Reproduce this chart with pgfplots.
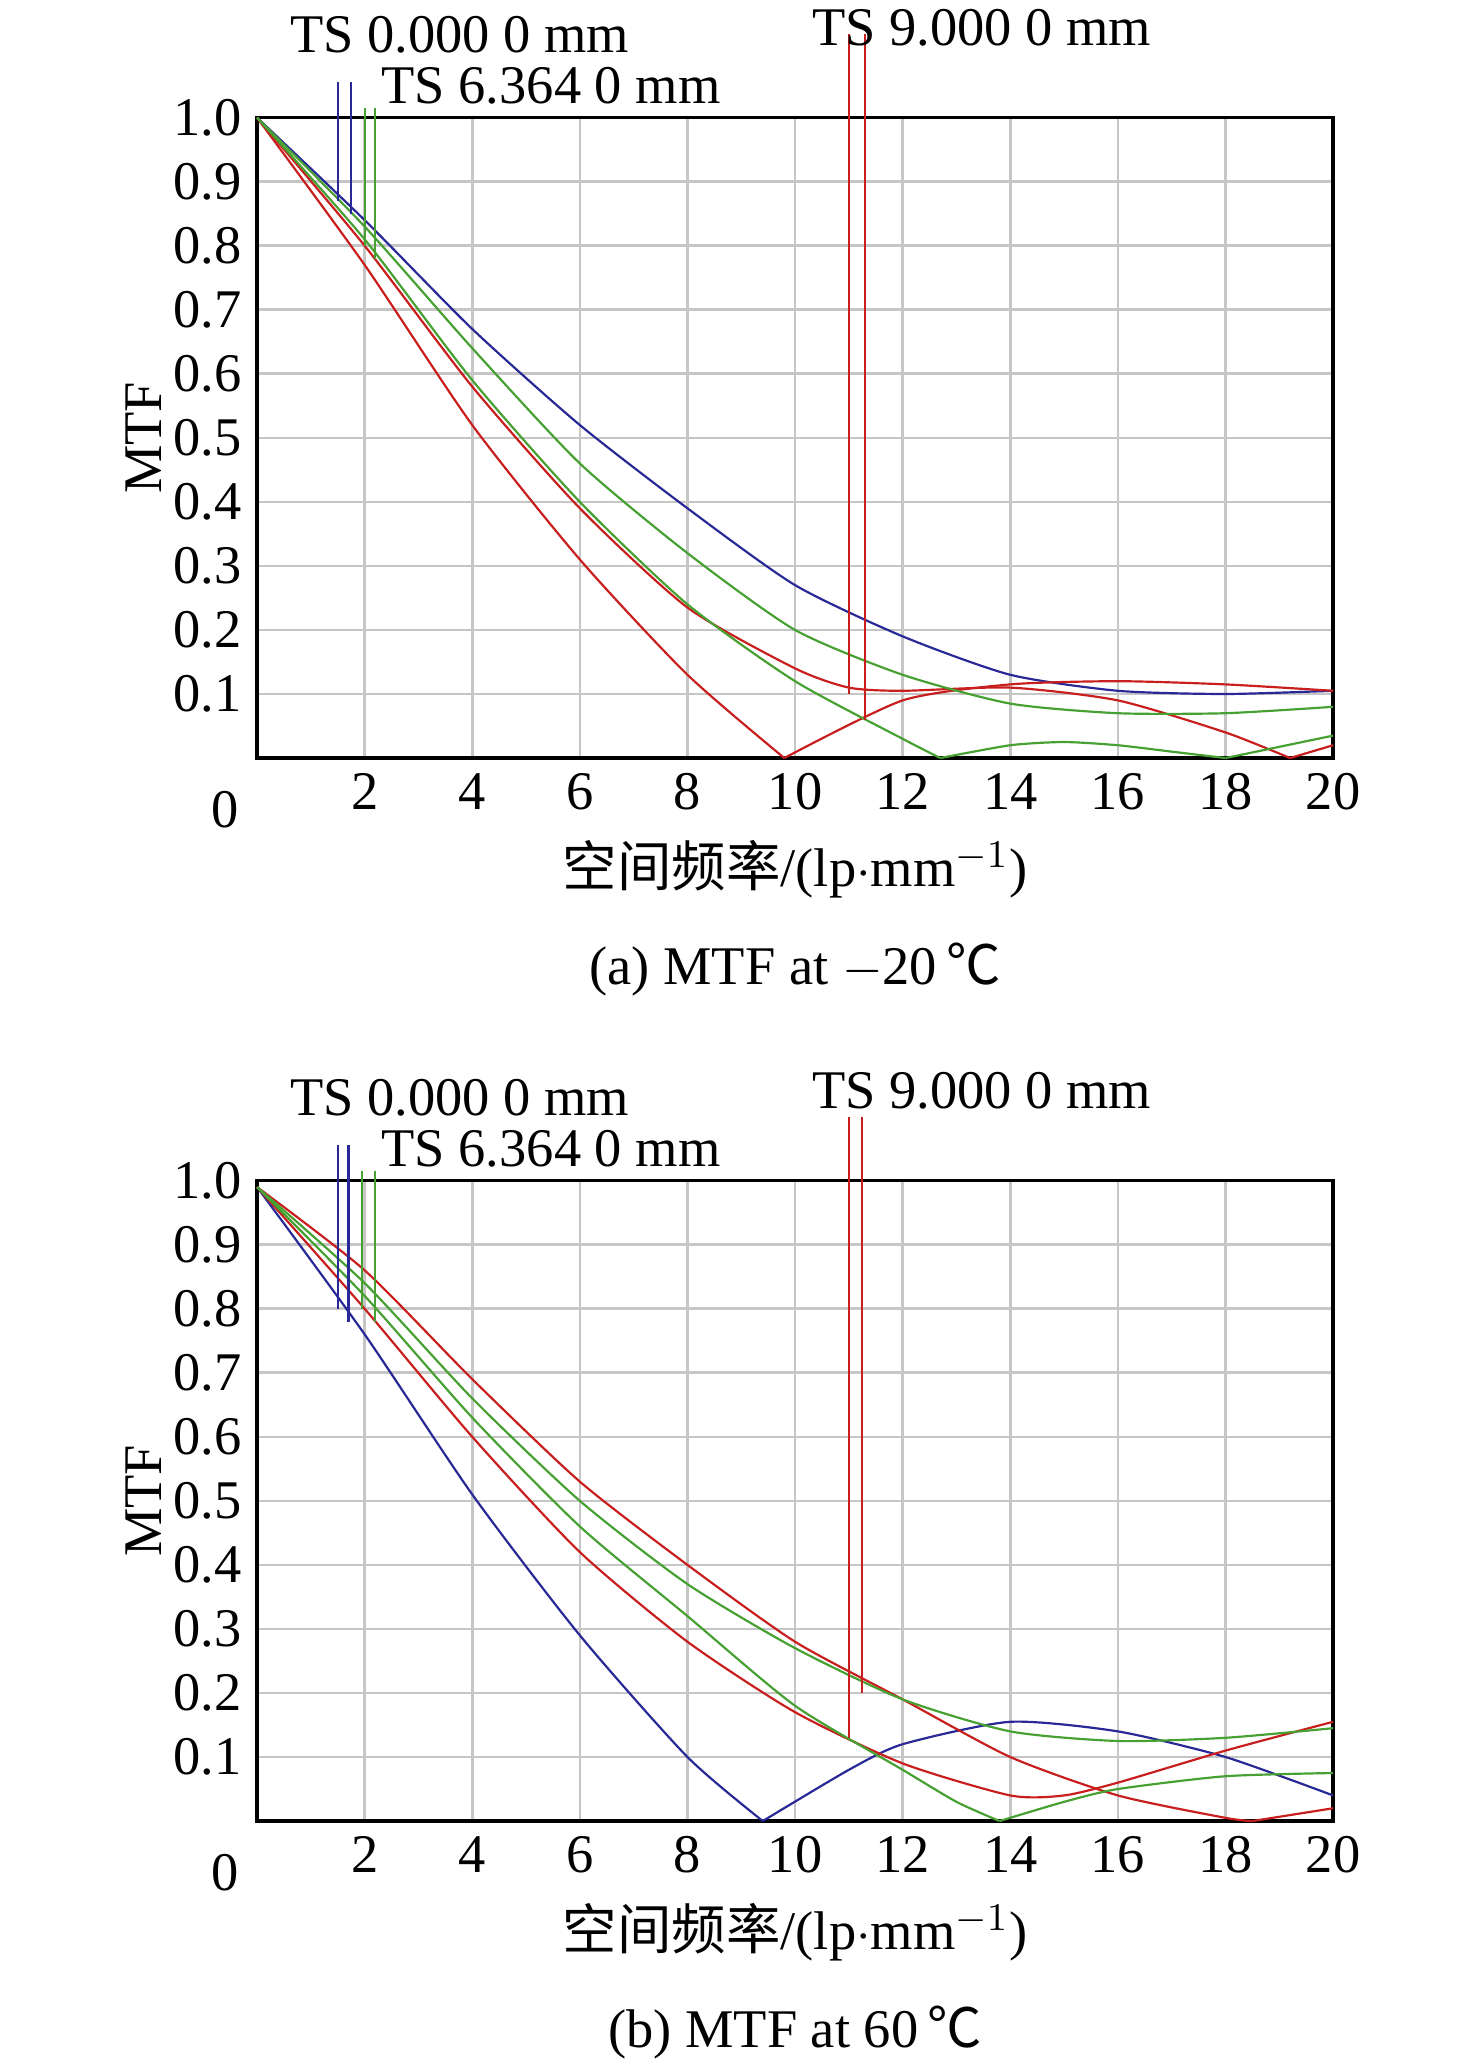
\documentclass[border=0pt]{standalone}
\usepackage{pgfplots}
\pgfplotsset{compat=1.18}
\usepackage{fontspec}
\setmainfont{Liberation Serif}
\newfontfamily\cjk{Noto Sans CJK SC}
\definecolor{mblue}{RGB}{40,40,150}
\definecolor{mred}{RGB}{200,30,30}
\definecolor{mgreen}{RGB}{70,160,50}
\pgfplotsset{mtf/.style={
  scale only axis, width=247pt, height=147pt,
  xmin=0,xmax=20,ymin=0,ymax=1,
  xtick={2,4,...,20}, ytick={0.1,0.2,...,1.0},
  yticklabel style={/pgf/number format/.cd,fixed,fixed zerofill,precision=1},
  /pgf/number format/assume math mode=true,
  grid=major, major grid style={gray!45,line width=0.6pt},
  tick style={draw=none},
  axis line style={line width=0.8pt},
  font=\fontsize{12.5}{14}\selectfont,
  ylabel={MTF}, ylabel style={yshift=-4pt},
  xlabel={{\cjk 空间频率}/(lp$\cdot$mm$^{-1}$)},
  clip=false,
  every axis plot/.append style={line width=0.5pt,smooth,tension=0.4},
}}
\begin{document}
\begin{tikzpicture}
\path[use as bounding box] (-59pt,-300pt) rectangle (280pt,174pt);
\begin{axis}[mtf, at={(0,0)}]
\addplot[mblue] coordinates {(0,1) (2,0.84) (4,0.67) (6,0.52) (8,0.39) (10,0.27) (12,0.19) (14,0.13) (16,0.105) (18,0.1) (20,0.105)};
\addplot[mred] coordinates {(0,1) (2,0.77) (4,0.52) (6,0.31) (8,0.13) (9.8,0)};
\addplot[mred] coordinates {(9.8,0) (12,0.09) (14,0.115) (16,0.12) (18,0.115) (20,0.105)};
\addplot[mred] coordinates {(0,1) (2,0.8) (4,0.58) (6,0.39) (8,0.235) (10,0.14) (11,0.11) (12,0.105) (14,0.11) (16,0.09) (18,0.04) (19.2,0)};
\addplot[mred] coordinates {(19.2,0) (20,0.02)};
\addplot[mgreen] coordinates {(0,1) (2,0.83) (4,0.64) (6,0.46) (8,0.32) (10,0.2) (12,0.13) (14,0.085) (16,0.07) (18,0.07) (20,0.08)};
\addplot[mgreen] coordinates {(0,1) (2,0.81) (4,0.59) (6,0.4) (8,0.24) (10,0.12) (12,0.03) (12.7,0)};
\addplot[mgreen] coordinates {(12.7,0) (14,0.02) (15,0.025) (16,0.02) (17,0.01) (18,0)};
\addplot[mgreen] coordinates {(18,0) (20,0.035)};
\addplot[mblue,sharp plot] coordinates {(1.5,0.87) (1.5,1.055)};
\addplot[mblue,sharp plot] coordinates {(1.75,0.85) (1.75,1.055)};
\addplot[mgreen,sharp plot] coordinates {(2.0,0.8) (2.0,1.015)};
\addplot[mgreen,sharp plot] coordinates {(2.2,0.78) (2.2,1.015)};
\addplot[mred,sharp plot] coordinates {(11.0,0.1) (11.0,1.13)};
\addplot[mred,sharp plot] coordinates {(11.3,0.06) (11.3,1.13)};
\node[anchor=west,inner sep=0] at (axis cs:0.6,1.13) {TS 0.000 0 mm};
\node[anchor=west,inner sep=0] at (axis cs:2.3,1.05) {TS 6.364 0 mm};
\node[anchor=west,inner sep=0] at (axis cs:10.3,1.14) {TS 9.000 0 mm};
\node at (axis cs:-0.6,-0.08) {0};
\node at (axis cs:10,-0.33) {(a) MTF at $-$20\,{\cjk ℃}};
\end{axis}
\begin{axis}[mtf, at={(0,-244pt)}]
\addplot[mblue] coordinates {(0,0.99) (2,0.76) (4,0.51) (6,0.29) (8,0.1) (9.4,0)};
\addplot[mblue] coordinates {(9.4,0) (11,0.08) (12,0.12) (14,0.155) (16,0.14) (18,0.1) (20,0.04)};
\addplot[mred] coordinates {(0,0.99) (2,0.86) (4,0.69) (6,0.53) (8,0.4) (10,0.28) (12,0.19) (14,0.1) (16,0.04) (18,0.005) (18.5,0)};
\addplot[mred] coordinates {(18.5,0) (20,0.02)};
\addplot[mred] coordinates {(0,0.99) (2,0.8) (4,0.6) (6,0.42) (8,0.28) (10,0.17) (12,0.09) (14,0.04) (15,0.04) (16,0.06) (18,0.11) (20,0.155)};
\addplot[mgreen] coordinates {(0,0.99) (2,0.84) (4,0.66) (6,0.5) (8,0.37) (10,0.27) (12,0.19) (14,0.14) (16,0.125) (18,0.13) (20,0.145)};
\addplot[mgreen] coordinates {(0,0.99) (2,0.82) (4,0.63) (6,0.46) (8,0.32) (10,0.18) (12,0.08) (13,0.03) (13.8,0)};
\addplot[mgreen] coordinates {(13.8,0) (15,0.03) (16,0.05) (18,0.07) (20,0.075)};
\addplot[mblue,sharp plot] coordinates {(1.5,0.8) (1.5,1.055)};
\addplot[mblue,sharp plot] coordinates {(1.7,0.78) (1.7,1.055)};
\addplot[mgreen,sharp plot] coordinates {(1.95,0.8) (1.95,1.015)};
\addplot[mgreen,sharp plot] coordinates {(2.2,0.78) (2.2,1.015)};
\addplot[mred,sharp plot] coordinates {(11.0,0.13) (11.0,1.1)};
\addplot[mred,sharp plot] coordinates {(11.25,0.2) (11.25,1.1)};
\node[anchor=west,inner sep=0] at (axis cs:0.6,1.13) {TS 0.000 0 mm};
\node[anchor=west,inner sep=0] at (axis cs:2.3,1.05) {TS 6.364 0 mm};
\node[anchor=west,inner sep=0] at (axis cs:10.3,1.14) {TS 9.000 0 mm};
\node at (axis cs:-0.6,-0.08) {0};
\node at (axis cs:10,-0.33) {(b) MTF at 60\,{\cjk ℃}};
\end{axis}
\end{tikzpicture}
\end{document}
